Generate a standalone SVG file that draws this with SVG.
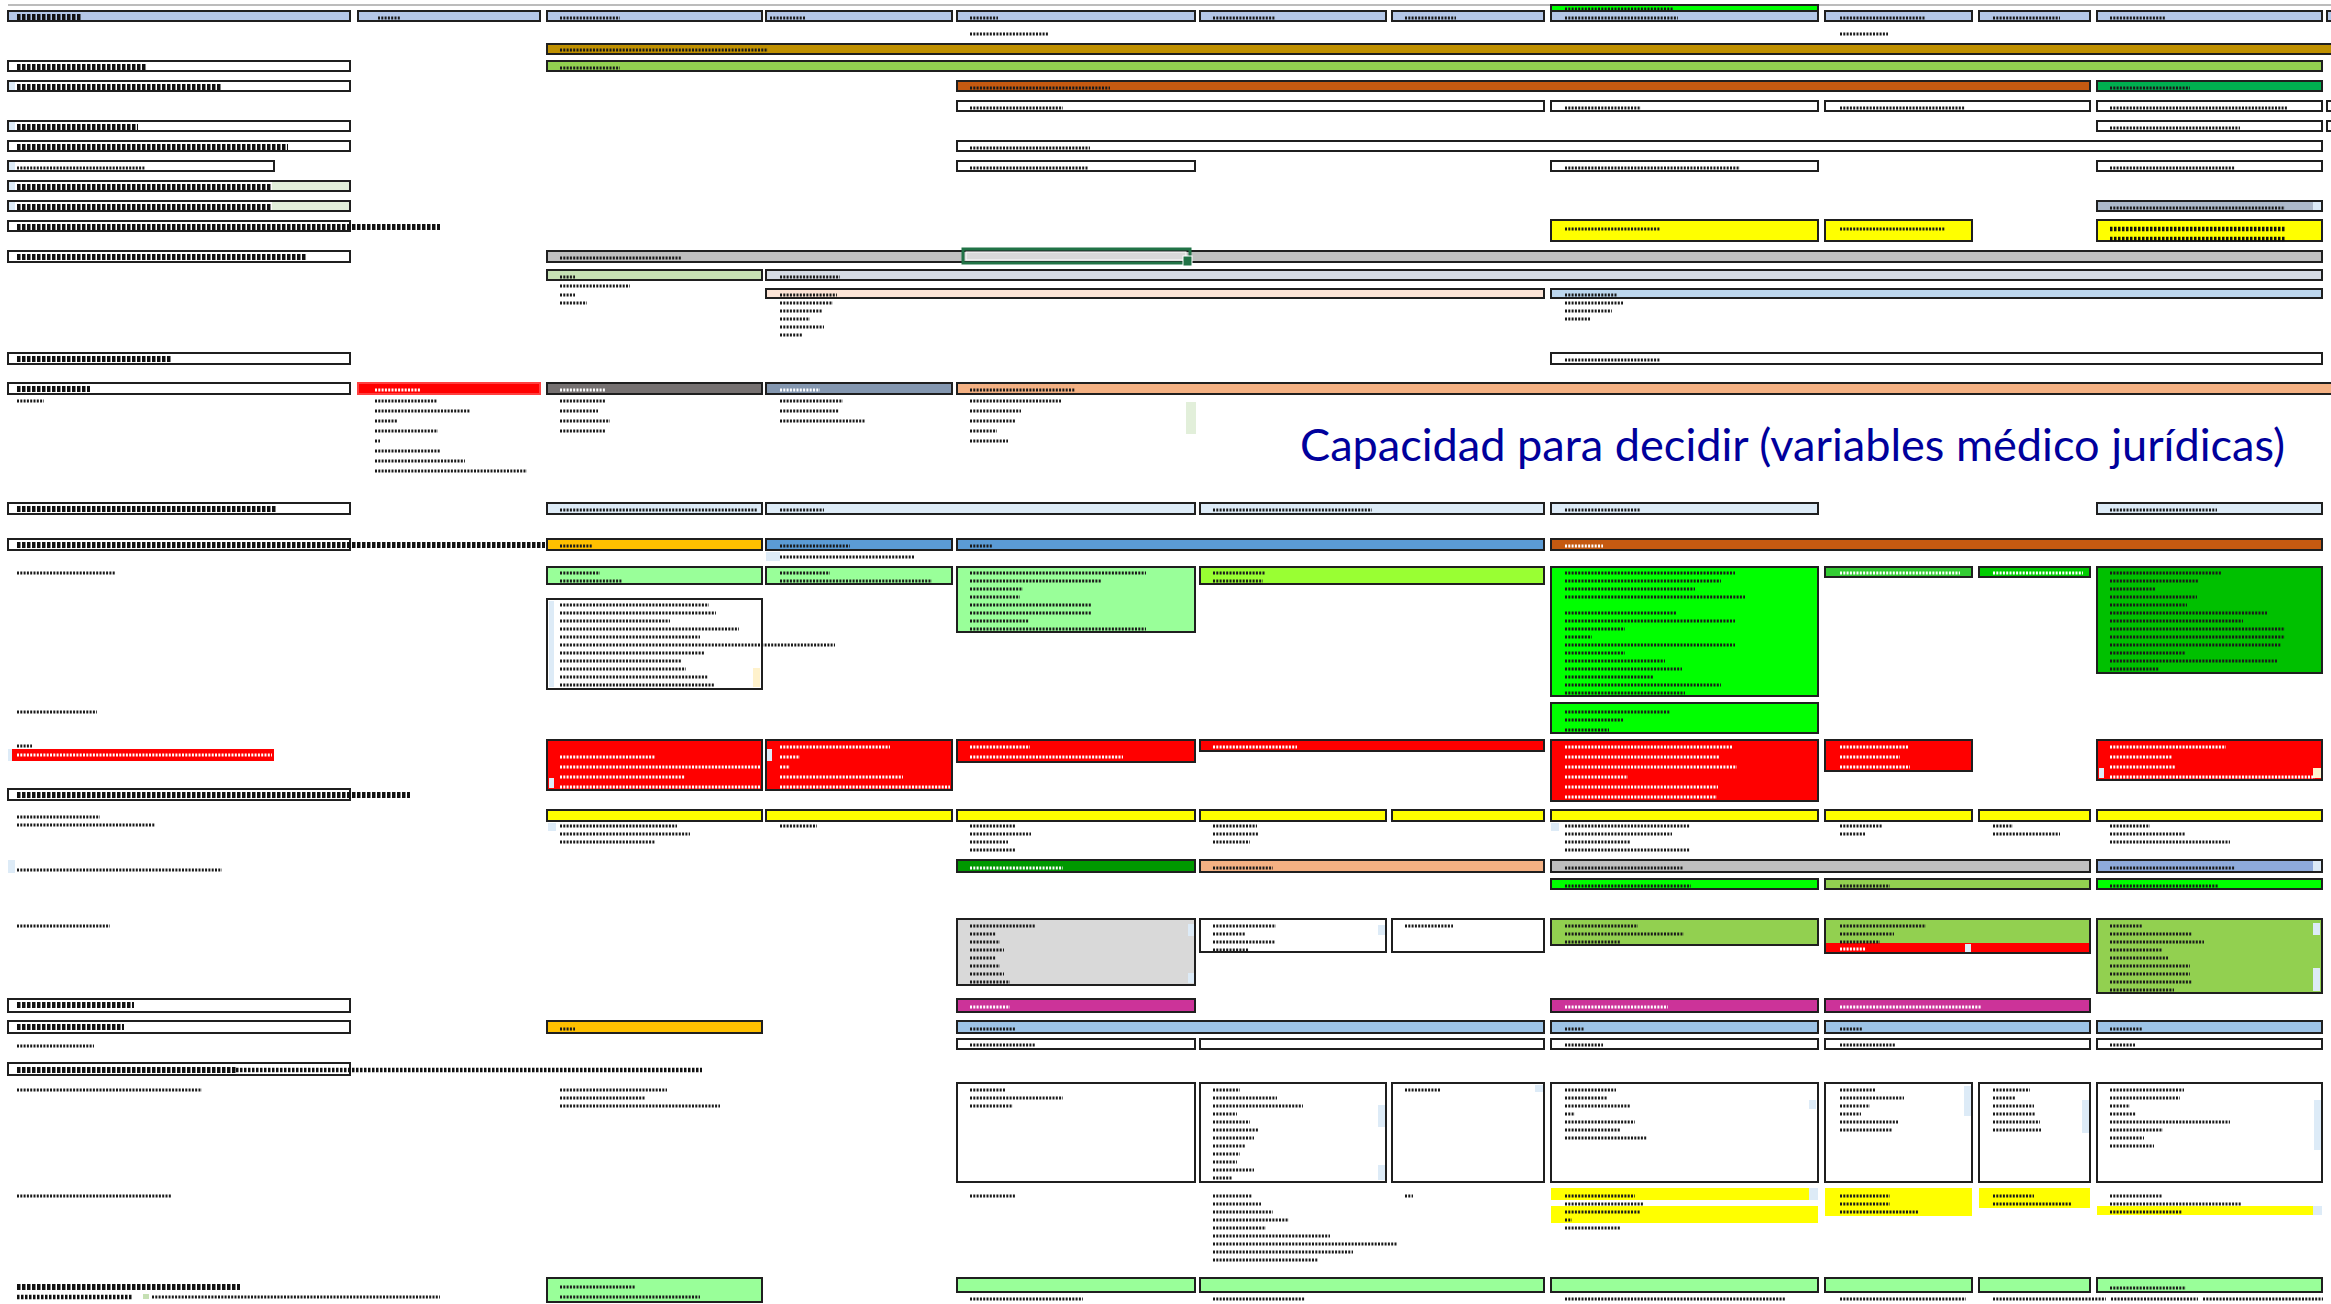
<svg xmlns="http://www.w3.org/2000/svg" width="2331" height="1304" viewBox="0 0 2331 1304">
<style>
.bx{stroke:#1f1f1f;stroke-width:2}
.t{fill:none;stroke:#1a1a1a;stroke-width:3;stroke-dasharray:2 1.3}
.tw{fill:none;stroke:#ffffff;stroke-width:3;stroke-dasharray:2 1.3}
.h{fill:none;stroke:#111111;stroke-width:6;stroke-dasharray:3.5 1.5}
.hm{fill:none;stroke:#111111;stroke-width:4.5;stroke-dasharray:2.5 1.5}
.title{font-family:Lato,"Open Sans","Liberation Sans",sans-serif;font-size:44px;fill:#00009c}
</style>
<rect width="2331" height="1304" fill="#ffffff"/>
<line x1="8" y1="5" x2="2331" y2="5" stroke="#a6a6a6" stroke-width="1.5"/>

<g id="row-01">
<rect class="bx" x="8" y="11" width="342" height="10" fill="#b4c7e7"/>
<rect class="bx" x="358" y="11" width="182" height="10" fill="#b4c7e7"/>
<rect class="bx" x="547" y="11" width="215" height="10" fill="#b4c7e7"/>
<rect class="bx" x="766" y="11" width="186" height="10" fill="#b4c7e7"/>
<rect class="bx" x="957" y="11" width="238" height="10" fill="#b4c7e7"/>
<rect class="bx" x="1200" y="11" width="186" height="10" fill="#b4c7e7"/>
<rect class="bx" x="1392" y="11" width="152" height="10" fill="#b4c7e7"/>
<rect class="bx" x="1551" y="5" width="267" height="6" fill="#00ff00"/>
<rect class="bx" x="1551" y="11" width="267" height="10" fill="#b4c7e7"/>
<rect class="bx" x="1825" y="11" width="147" height="10" fill="#b4c7e7"/>
<rect class="bx" x="1979" y="11" width="111" height="10" fill="#b4c7e7"/>
<rect class="bx" x="2097" y="11" width="225" height="10" fill="#b4c7e7"/>
<rect class="bx" x="2327" y="11" width="20" height="10" fill="#b4c7e7"/>
<path class="h" d="M17 17h65"/>
<path class="t" d="M378 18h22M560 18h60M770 18h36M970 18h28M1213 18h62M1405 18h51M1565 18h113M1565 9h108M1840 18h85M1993 18h67M2110 18h55M970 34h78M1840 34h48"/>
</g>

<g id="row-02">
<rect class="bx" x="547" y="44" width="1790" height="10" fill="#bf9000"/>
<path class="t" d="M560 50h208"/>
</g>

<g id="row-03">
<rect class="bx" x="8" y="61" width="342" height="10" fill="#ffffff"/>
<rect class="bx" x="547" y="61" width="1775" height="10" fill="#92d050"/>
<path class="h" d="M17 67h130"/>
<path class="t" d="M560 68h60"/>
</g>

<g id="row-04">
<rect class="bx" x="8" y="81" width="342" height="10" fill="#ffffff"/>
<rect x="9" y="82" width="6" height="8" fill="#ddebf7"/>
<rect class="bx" x="957" y="81" width="1133" height="10" fill="#c55a11"/>
<rect class="bx" x="2097" y="81" width="225" height="10" fill="#00b050"/>
<path class="h" d="M17 87h205"/>
<path class="t" d="M970 88h140M2110 88h80"/>
</g>

<g id="row-05">
<rect class="bx" x="957" y="101" width="587" height="10" fill="#ffffff"/>
<rect class="bx" x="1551" y="101" width="267" height="10" fill="#ffffff"/>
<rect class="bx" x="1825" y="101" width="265" height="10" fill="#ffffff"/>
<rect class="bx" x="2097" y="101" width="225" height="10" fill="#ffffff"/>
<rect class="bx" x="2327" y="101" width="20" height="10" fill="#ffffff"/>
<path class="t" d="M970 108h93M1565 108h76M1840 108h125M2110 108h178"/>
</g>

<g id="row-06">
<rect class="bx" x="8" y="121" width="342" height="10" fill="#ffffff"/>
<rect x="9" y="122" width="6" height="8" fill="#ddebf7"/>
<rect class="bx" x="2097" y="121" width="225" height="10" fill="#ffffff"/>
<rect class="bx" x="2327" y="121" width="20" height="10" fill="#ffffff"/>
<path class="h" d="M17 127h121"/>
<path class="t" d="M2110 128h130"/>
</g>

<g id="row-07">
<rect class="bx" x="8" y="141" width="342" height="10" fill="#ffffff"/>
<rect class="bx" x="957" y="141" width="1365" height="10" fill="#ffffff"/>
<path class="h" d="M17 147h271"/>
<path class="t" d="M970 148h120"/>
</g>

<g id="row-08">
<rect class="bx" x="8" y="161" width="266" height="10" fill="#ffffff"/>
<rect x="9" y="162" width="6" height="8" fill="#ddebf7"/>
<rect class="bx" x="957" y="161" width="238" height="10" fill="#ffffff"/>
<rect class="bx" x="1551" y="161" width="267" height="10" fill="#ffffff"/>
<rect class="bx" x="2097" y="161" width="225" height="10" fill="#ffffff"/>
<path class="t" d="M17 168h128M970 168h118M1565 168h175M2110 168h125"/>
</g>

<g id="row-09">
<rect class="bx" x="8" y="181" width="342" height="10" fill="#ffffff"/>
<rect x="272" y="182" width="77" height="8" fill="#e2efda"/>
<rect x="9" y="182" width="6" height="8" fill="#ddebf7"/>
<path class="h" d="M17 187h255"/>
</g>

<g id="row-10">
<rect class="bx" x="8" y="201" width="342" height="10" fill="#ffffff"/>
<rect x="272" y="202" width="77" height="8" fill="#e2efda"/>
<rect x="9" y="202" width="6" height="8" fill="#ddebf7"/>
<rect class="bx" x="2097" y="201" width="225" height="10" fill="#adb9ca"/>
<rect x="2313" y="202" width="8" height="8" fill="#ddebf7"/>
<path class="h" d="M17 207h255"/>
<path class="t" d="M2110 208h175"/>
</g>

<g id="row-11">
<rect class="bx" x="8" y="221" width="342" height="10" fill="#ffffff"/>
<rect class="bx" x="1551" y="220" width="267" height="21" fill="#ffff00"/>
<rect class="bx" x="1825" y="220" width="147" height="21" fill="#ffff00"/>
<rect class="bx" x="2097" y="220" width="225" height="21" fill="#ffff00"/>
<path class="h" d="M17 227h423"/>
<path class="t" d="M1565 229h95M1840 229h105"/>
<path class="hm" d="M2110 229h175M2110 239h175"/>
</g>

<g id="row-12">
<rect class="bx" x="8" y="251" width="342" height="11" fill="#ffffff"/>
<rect class="bx" x="547" y="251" width="1775" height="11" fill="#bfbfbf"/>
<path class="h" d="M17 257h290"/>
<path class="t" d="M560 258h122"/>
<rect x="966" y="252" width="220" height="8" fill="#d9d9d9" stroke="#ffffff" stroke-width="1"/>
<rect x="963" y="249" width="227" height="14" fill="none" stroke="#217346" stroke-width="3"/>
<rect x="1183" y="256" width="9" height="10" fill="#217346" stroke="#ffffff" stroke-width="1"/>
</g>

<g id="row-13">
<rect class="bx" x="547" y="270" width="215" height="10" fill="#c6e0b4"/>
<rect class="bx" x="766" y="270" width="1556" height="10" fill="#d6dce4"/>
<path class="t" d="M560 277h15M780 277h60M560 286h70M560 295h15M560 303h27"/>
</g>

<g id="row-14">
<rect class="bx" x="766" y="289" width="778" height="9" fill="#fce4d6"/>
<rect class="bx" x="1551" y="289" width="771" height="9" fill="#bdd7ee"/>
<path class="t" d="M780 295h57M1565 295h52M780 303h53M780 311h42M780 319h30M780 327h44M780 335h22M1565 303h58M1565 311h47M1565 319h25"/>
</g>

<g id="row-15">
<rect class="bx" x="8" y="353" width="342" height="11" fill="#ffffff"/>
<rect class="bx" x="1551" y="353" width="771" height="11" fill="#ffffff"/>
<path class="h" d="M17 359h154"/>
<path class="t" d="M1565 360h95"/>
</g>

<g id="row-16">
<rect class="bx" x="8" y="383" width="342" height="11" fill="#ffffff"/>
<rect x="358" y="383" width="182" height="11" fill="#ff0000" stroke="#ff4040" stroke-width="2"/>
<rect class="bx" x="547" y="383" width="215" height="11" fill="#767171"/>
<rect class="bx" x="766" y="383" width="186" height="11" fill="#8497b0"/>
<rect class="bx" x="957" y="383" width="1380" height="11" fill="#f4b183"/>
<rect x="1186" y="402" width="10" height="32" fill="#e2efda"/>
<path class="h" d="M17 389h73"/>
<path class="tw" d="M375 390h45M560 390h45M780 390h40"/>
<path class="t" d="M970 390h105M17 401h27M375 401h62M375 411h95M375 421h23M375 431h63M375 441h5M375 451h65M375 461h90M375 471h152M560 401h45M560 411h38M560 421h50M560 431h46M780 401h63M780 411h59M780 421h85M970 401h91M970 411h51M970 421h46M970 431h27M970 441h38"/>
</g>

<g id="title">
<text class="title" x="1300" y="461" textLength="985" lengthAdjust="spacingAndGlyphs">Capacidad para decidir (variables médico jurídicas)</text>
</g>

<g id="row-17">
<rect class="bx" x="8" y="503" width="342" height="11" fill="#ffffff"/>
<rect class="bx" x="547" y="503" width="215" height="11" fill="#ddebf7"/>
<rect class="bx" x="766" y="503" width="429" height="11" fill="#ddebf7"/>
<rect class="bx" x="1200" y="503" width="344" height="11" fill="#ddebf7"/>
<rect class="bx" x="1551" y="503" width="267" height="11" fill="#ddebf7"/>
<rect class="bx" x="2097" y="503" width="225" height="11" fill="#ddebf7"/>
<path class="h" d="M17 509h260"/>
<path class="t" d="M560 510h197M780 510h44M1213 510h159M1565 510h75M2110 510h107"/>
</g>

<g id="row-18">
<rect class="bx" x="8" y="539" width="342" height="11" fill="#ffffff"/>
<rect class="bx" x="547" y="539" width="215" height="11" fill="#ffc000"/>
<rect class="bx" x="766" y="539" width="186" height="11" fill="#5b9bd5"/>
<rect class="bx" x="957" y="539" width="587" height="11" fill="#5b9bd5"/>
<rect class="bx" x="1551" y="539" width="771" height="11" fill="#c55a11"/>
<rect x="766" y="552" width="14" height="9" fill="#ddebf7"/>
<path class="h" d="M17 545h528"/>
<path class="t" d="M560 546h33M780 546h70M970 546h23M780 557h135M17 573h98M17 712h80"/>
<path class="tw" d="M1565 546h38"/>
</g>

<g id="row-19">
<rect class="bx" x="547" y="567" width="215" height="17" fill="#99ff99"/>
<rect class="bx" x="766" y="567" width="186" height="17" fill="#99ff99"/>
<rect class="bx" x="957" y="567" width="238" height="65" fill="#99ff99"/>
<rect class="bx" x="1200" y="567" width="344" height="17" fill="#99ff33"/>
<rect class="bx" x="1551" y="567" width="267" height="129" fill="#00ff00"/>
<rect class="bx" x="1825" y="567" width="147" height="10" fill="#33cc33"/>
<rect class="bx" x="1979" y="567" width="111" height="10" fill="#00cc00"/>
<rect class="bx" x="2097" y="567" width="225" height="106" fill="#00c000"/>
<rect class="bx" x="547" y="599" width="215" height="90" fill="#ffffff"/>
<rect x="549" y="601" width="5" height="86" fill="#ddebf7"/>
<rect x="753" y="668" width="7" height="19" fill="#fff2cc"/>
<rect class="bx" x="1551" y="703" width="267" height="30" fill="#00ff00"/>
<path class="t" d="M560 573h40M560 581h62M780 573h50M780 581h152M970 573h176M970 581h132M970 589h53M970 597h50M970 605h122M970 613h121M970 621h59M970 629h176M1213 573h52M1213 581h50"/>
<path class="t" d="M560 605h149M560 613h156M560 621h110M560 629h179M560 637h140M560 645h275M560 653h144M560 661h122M560 669h126M560 677h148M560 685h154"/>
<path class="t" d="M1565 573h170M1565 581h156M1565 589h130M1565 597h180M1565 613h112M1565 621h170M1565 629h60M1565 637h27M1565 645h170M1565 653h60M1565 661h100M1565 669h117M1565 677h88M1565 685h156M1565 693h120M1565 712h105M1565 720h58M1565 730h44"/>
<path class="t" d="M2110 573h111M2110 581h89M2110 589h45M2110 597h87M2110 605h77M2110 613h157M2110 621h133M2110 629h175M2110 637h175M2110 645h171M2110 653h75M2110 661h167M2110 669h49"/>
<path class="tw" d="M1840 573h120M1993 573h90"/>
</g>

<g id="row-red">
<path class="t" d="M17 746h15"/>
<rect x="12" y="749" width="262" height="12" fill="#ff0000"/>
<rect x="8" y="749" width="4" height="12" fill="#ddebf7"/>
<rect class="bx" x="547" y="740" width="215" height="50" fill="#ff0000"/>
<rect class="bx" x="766" y="740" width="186" height="50" fill="#ff0000"/>
<rect class="bx" x="957" y="740" width="238" height="22" fill="#ff0000"/>
<rect class="bx" x="1200" y="740" width="344" height="11" fill="#ff0000"/>
<rect class="bx" x="1551" y="740" width="267" height="61" fill="#ff0000"/>
<rect class="bx" x="1825" y="740" width="147" height="31" fill="#ff0000"/>
<rect class="bx" x="2097" y="740" width="225" height="40" fill="#ff0000"/>
<rect x="549" y="778" width="5" height="10" fill="#ddebf7"/>
<rect x="767" y="749" width="5" height="12" fill="#ddebf7"/>
<rect x="2099" y="768" width="5" height="10" fill="#ddebf7"/>
<rect x="2313" y="768" width="8" height="10" fill="#fff2cc"/>
<path class="tw" d="M17 755h255M560 757h95M560 767h200M560 777h125M560 787h200M780 747h110M780 757h20M780 767h10M780 777h123M780 787h170M970 747h60M970 757h153M1213 747h84M1565 747h168M1565 757h155M1565 767h172M1565 777h63M1565 787h153M1565 797h152M1840 747h68M1840 757h60M1840 767h70M2110 747h116M2110 757h62M2110 767h65M2110 777h205"/>
</g>

<g id="row-20">
<rect class="bx" x="8" y="789" width="342" height="11" fill="#ffffff"/>
<path class="h" d="M17 795h393"/>
<path class="t" d="M17 817h83M17 825h138"/>
</g>

<g id="row-yellow">
<rect class="bx" x="547" y="810" width="215" height="11" fill="#ffff00"/>
<rect class="bx" x="766" y="810" width="186" height="11" fill="#ffff00"/>
<rect class="bx" x="957" y="810" width="238" height="11" fill="#ffff00"/>
<rect class="bx" x="1200" y="810" width="186" height="11" fill="#ffff00"/>
<rect class="bx" x="1392" y="810" width="152" height="11" fill="#ffff00"/>
<rect class="bx" x="1551" y="810" width="267" height="11" fill="#ffff00"/>
<rect class="bx" x="1825" y="810" width="147" height="11" fill="#ffff00"/>
<rect class="bx" x="1979" y="810" width="111" height="11" fill="#ffff00"/>
<rect class="bx" x="2097" y="810" width="225" height="11" fill="#ffff00"/>
<rect x="548" y="823" width="8" height="8" fill="#ddebf7"/>
<rect x="1551" y="823" width="8" height="8" fill="#ddebf7"/>
<path class="t" d="M560 826h117M560 834h130M560 842h95M780 826h37M970 826h45M970 834h61M970 842h38M970 850h45M1213 826h44M1213 834h45M1213 842h37M1565 826h125M1565 834h107M1565 842h66M1565 850h125M1840 826h42M1840 834h25M1993 826h20M1993 834h67M2110 826h40M2110 834h75M2110 842h120"/>
</g>

<g id="row-21">
<rect x="8" y="860" width="7" height="13" fill="#ddebf7"/>
<rect class="bx" x="957" y="860" width="238" height="12" fill="#009900"/>
<rect class="bx" x="1200" y="860" width="344" height="12" fill="#f4b183"/>
<rect class="bx" x="1551" y="860" width="539" height="12" fill="#bfbfbf"/>
<rect class="bx" x="2097" y="860" width="225" height="12" fill="#8eaadb"/>
<rect x="2313" y="861" width="8" height="10" fill="#ddebf7"/>
<rect class="bx" x="1551" y="879" width="267" height="10" fill="#00ff00"/>
<rect class="bx" x="1825" y="879" width="265" height="10" fill="#92d050"/>
<rect class="bx" x="2097" y="879" width="225" height="10" fill="#00ff00"/>
<path class="t" d="M17 870h205M1213 868h60M1565 868h118M2110 868h125M1565 886h126M1840 886h50M2110 886h108M17 926h93"/>
<path class="tw" d="M970 868h93"/>
</g>

<g id="row-22">
<rect class="bx" x="957" y="919" width="238" height="66" fill="#d9d9d9"/>
<rect x="1188" y="924" width="6" height="12" fill="#ddebf7"/>
<rect x="1188" y="973" width="6" height="10" fill="#ddebf7"/>
<rect class="bx" x="1200" y="919" width="186" height="33" fill="#ffffff"/>
<rect x="1378" y="925" width="7" height="10" fill="#ddebf7"/>
<rect class="bx" x="1392" y="919" width="152" height="33" fill="#ffffff"/>
<rect class="bx" x="1551" y="919" width="267" height="26" fill="#92d050"/>
<rect class="bx" x="1825" y="919" width="265" height="34" fill="#92d050"/>
<rect x="1826" y="943" width="263" height="9" fill="#ff0000"/>
<rect x="1965" y="944" width="6" height="8" fill="#ddebf7"/>
<rect class="bx" x="2097" y="919" width="225" height="74" fill="#92d050"/>
<rect x="2313" y="923" width="7" height="12" fill="#ddebf7"/>
<rect x="2313" y="968" width="7" height="23" fill="#ddebf7"/>
<path class="t" d="M970 926h65M970 934h26M970 942h30M970 950h34M970 958h26M970 966h30M970 974h34M970 982h40M1213 926h63M1213 934h32M1213 942h62M1213 950h35M1405 926h48M1565 926h73M1565 934h119M1565 942h55M1840 926h86M1840 934h54M1840 942h40M2110 926h32M2110 934h82M2110 942h94M2110 950h52M2110 958h58M2110 966h80M2110 974h80M2110 982h82M2110 990h64"/>
<path class="tw" d="M1840 949h25"/>
</g>

<g id="row-23">
<rect class="bx" x="8" y="999" width="342" height="13" fill="#ffffff"/>
<rect class="bx" x="957" y="999" width="238" height="13" fill="#cc3399"/>
<rect class="bx" x="1551" y="999" width="267" height="13" fill="#cc3399"/>
<rect class="bx" x="1825" y="999" width="265" height="13" fill="#cc3399"/>
<path class="h" d="M17 1005h117"/>
<path class="tw" d="M970 1007h40M1565 1007h103M1840 1007h141"/>
</g>

<g id="row-24">
<rect class="bx" x="8" y="1021" width="342" height="12" fill="#ffffff"/>
<rect class="bx" x="547" y="1021" width="215" height="12" fill="#ffc000"/>
<rect class="bx" x="957" y="1021" width="587" height="12" fill="#9dc3e6"/>
<rect class="bx" x="1551" y="1021" width="267" height="12" fill="#9dc3e6"/>
<rect class="bx" x="1825" y="1021" width="265" height="12" fill="#9dc3e6"/>
<rect class="bx" x="2097" y="1021" width="225" height="12" fill="#9dc3e6"/>
<path class="h" d="M17 1027h107"/>
<path class="t" d="M560 1029h15M970 1029h45M1565 1029h19M1840 1029h22M2110 1029h32M17 1046h77"/>
</g>

<g id="row-25">
<rect class="bx" x="957" y="1039" width="238" height="10" fill="#ffffff"/>
<rect class="bx" x="1200" y="1039" width="344" height="10" fill="#ffffff"/>
<rect class="bx" x="1551" y="1039" width="267" height="10" fill="#ffffff"/>
<rect class="bx" x="1825" y="1039" width="265" height="10" fill="#ffffff"/>
<rect class="bx" x="2097" y="1039" width="225" height="10" fill="#ffffff"/>
<path class="t" d="M970 1045h65M1565 1045h38M1840 1045h55M2110 1045h25"/>
</g>

<g id="row-26">
<rect class="bx" x="8" y="1063" width="342" height="12" fill="#ffffff"/>
<path class="h" d="M17 1070h219"/>
<path class="hm" d="M236 1070h466"/>
<path class="t" d="M17 1090h185M560 1090h107M560 1098h85M560 1106h160"/>
</g>

<g id="row-27">
<rect class="bx" x="957" y="1083" width="238" height="99" fill="#ffffff"/>
<rect class="bx" x="1200" y="1083" width="186" height="99" fill="#ffffff"/>
<rect x="1378" y="1105" width="7" height="22" fill="#ddebf7"/>
<rect x="1378" y="1165" width="7" height="15" fill="#ddebf7"/>
<rect class="bx" x="1392" y="1083" width="152" height="99" fill="#ffffff"/>
<rect x="1535" y="1085" width="8" height="7" fill="#ddebf7"/>
<rect class="bx" x="1551" y="1083" width="267" height="99" fill="#ffffff"/>
<rect x="1809" y="1100" width="7" height="9" fill="#ddebf7"/>
<rect class="bx" x="1825" y="1083" width="147" height="99" fill="#ffffff"/>
<rect x="1964" y="1086" width="7" height="30" fill="#ddebf7"/>
<rect class="bx" x="1979" y="1083" width="111" height="99" fill="#ffffff"/>
<rect x="2082" y="1100" width="7" height="33" fill="#ddebf7"/>
<rect class="bx" x="2097" y="1083" width="225" height="99" fill="#ffffff"/>
<rect x="2314" y="1100" width="7" height="50" fill="#ddebf7"/>
<path class="t" d="M970 1090h35M970 1098h93M970 1106h43M1213 1090h27M1213 1098h64M1213 1106h90M1213 1114h24M1213 1122h37M1213 1130h45M1213 1138h41M1213 1146h33M1213 1154h27M1213 1162h24M1213 1170h41M1213 1178h19M1405 1090h36M1565 1090h51M1565 1098h42M1565 1106h65M1565 1114h10M1565 1122h70M1565 1130h56M1565 1138h82M1840 1090h36M1840 1098h64M1840 1106h30M1840 1114h21M1840 1122h58M1840 1130h52M1993 1090h37M1993 1098h23M1993 1106h41M1993 1114h42M1993 1122h47M1993 1130h48M2110 1090h74M2110 1098h70M2110 1106h20M2110 1114h26M2110 1122h120M2110 1130h53M2110 1138h34M2110 1146h44"/>
</g>

<g id="row-28">
<rect x="1551" y="1188" width="267" height="12" fill="#ffff00"/>
<rect x="1551" y="1206" width="267" height="17" fill="#ffff00"/>
<rect x="1809" y="1188" width="9" height="12" fill="#ddebf7"/>
<rect x="1825" y="1188" width="147" height="28" fill="#ffff00"/>
<rect x="1979" y="1188" width="111" height="20" fill="#ffff00"/>
<rect x="2097" y="1206" width="225" height="9" fill="#ffff00"/>
<rect x="2313" y="1206" width="9" height="9" fill="#ddebf7"/>
<path class="t" d="M17 1196h155M970 1196h46M1213 1196h39M1213 1204h48M1213 1212h60M1213 1220h76M1213 1228h53M1213 1236h117M1213 1244h184M1213 1252h140M1213 1260h105M1405 1196h8M1565 1196h70M1565 1204h78M1565 1212h75M1565 1220h7M1565 1228h55M1840 1196h50M1840 1204h50M1840 1212h78M1993 1196h41M1993 1204h79M2110 1196h52M2110 1204h131M2110 1212h72"/>
</g>

<g id="row-29">
<rect class="bx" x="547" y="1278" width="215" height="24" fill="#99ff99"/>
<rect class="bx" x="957" y="1278" width="238" height="14" fill="#99ff99"/>
<rect class="bx" x="1200" y="1278" width="344" height="14" fill="#99ff99"/>
<rect class="bx" x="1551" y="1278" width="267" height="14" fill="#99ff99"/>
<rect class="bx" x="1825" y="1278" width="147" height="14" fill="#99ff99"/>
<rect class="bx" x="1979" y="1278" width="111" height="14" fill="#99ff99"/>
<rect class="bx" x="2097" y="1278" width="225" height="14" fill="#99ff99"/>
<rect x="143" y="1294" width="6" height="5" fill="#c6e0b4"/>
<path class="h" d="M17 1287h223"/>
<path class="hm" d="M17 1297h115"/>
<path class="t" d="M152 1297h288M560 1287h75M560 1297h140M970 1299h113M1213 1299h92M1565 1299h220M1840 1299h126M1993 1299h113M2111 1299h87M2203 1299h120M2110 1288h76"/>
</g>
</svg>
